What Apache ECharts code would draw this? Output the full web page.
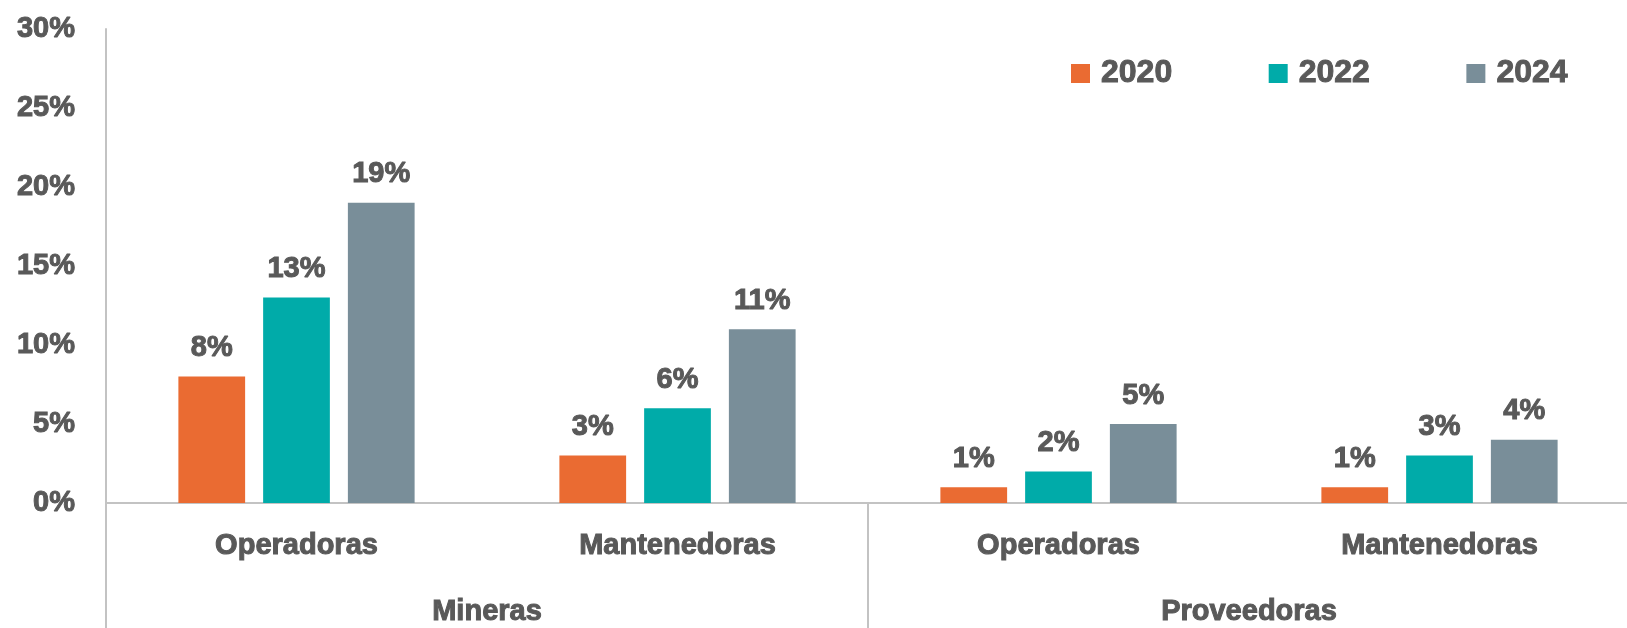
<!DOCTYPE html>
<html>
<head>
<meta charset="utf-8">
<script src="https://cdn.jsdelivr.net/npm/echarts@6/dist/echarts.min.js"></script>
<style>
  html, body { margin: 0; padding: 0; background: #ffffff; }
  #chart { width: 1627px; height: 628px; }
</style>
</head>
<body>
<div id="chart"></div>
<script>
// Categories (sub groups) and groups
const subCategories = ["Operadoras", "Mantenedoras", "Operadoras", "Mantenedoras"];
const groups = ["Mineras", "Proveedoras"];

// Series values (%)
const years = ["2020", "2022", "2024"];
const values2020 = [8, 3, 1, 1];
const values2022 = [13, 6, 2, 3];
const values2024 = [19, 11, 5, 4];

const colors = ["#EA6B32", "#00ABA9", "#798E99"];
const textColor = "#595959";
const lineColor = "#c3c3c3";
const sans = '"Liberation Sans", Arial, sans-serif';

// heavier bold look, like the original
const heavy = {
  color: textColor,
  fontFamily: sans,
  fontWeight: "bold",
  textBorderColor: textColor,
  textBorderWidth: 1
};

const chart = echarts.init(document.getElementById("chart"), null, { renderer: "canvas" });

function makeSeries(name, data, idx) {
  return {
    name: name,
    type: "bar",
    data: data,
    barGap: "27%",
    barCategoryGap: "38%",
    itemStyle: { color: colors[idx] },
    label: Object.assign({
      show: true,
      position: "top",
      distance: 14,
      formatter: "{c}%",
      fontSize: 29
    }, heavy)
  };
}

chart.setOption({
  animation: false,
  backgroundColor: "#ffffff",
  legend: {
    data: years,
    left: 1066,
    top: 52,
    icon: "rect",
    itemWidth: 19,
    itemHeight: 19,
    itemGap: 96,
    textStyle: Object.assign({ fontSize: 32, padding: [0, 0, 0, 6] }, heavy)
  },
  grid: {
    left: 106,
    right: -3,
    top: 29,
    bottom: 125,
    containLabel: false,
    outerBoundsMode: "none"
  },
  xAxis: [
    {
      type: "category",
      data: subCategories,
      axisLine: { show: true, lineStyle: { color: lineColor, width: 2 } },
      axisTick: { show: false },
      axisLabel: Object.assign({ margin: 28, fontSize: 29 }, heavy)
    },
    {
      type: "category",
      data: groups,
      position: "bottom",
      axisLine: { show: false },
      axisTick: {
        show: true,
        length: 125,
        alignWithLabel: false,
        lineStyle: { color: lineColor, width: 2 }
      },
      axisLabel: Object.assign({ margin: 94, fontSize: 29 }, heavy)
    }
  ],
  yAxis: {
    type: "value",
    min: 0,
    max: 30,
    interval: 5,
    axisLine: { show: true, lineStyle: { color: lineColor, width: 2 } },
    axisTick: { show: false },
    splitLine: { show: false },
    axisLabel: Object.assign({ margin: 31, formatter: "{value}%", fontSize: 29 }, heavy)
  },
  series: [
    makeSeries(years[0], values2020, 0),
    makeSeries(years[1], values2022, 1),
    makeSeries(years[2], values2024, 2)
  ]
});
</script>
</body>
</html>
